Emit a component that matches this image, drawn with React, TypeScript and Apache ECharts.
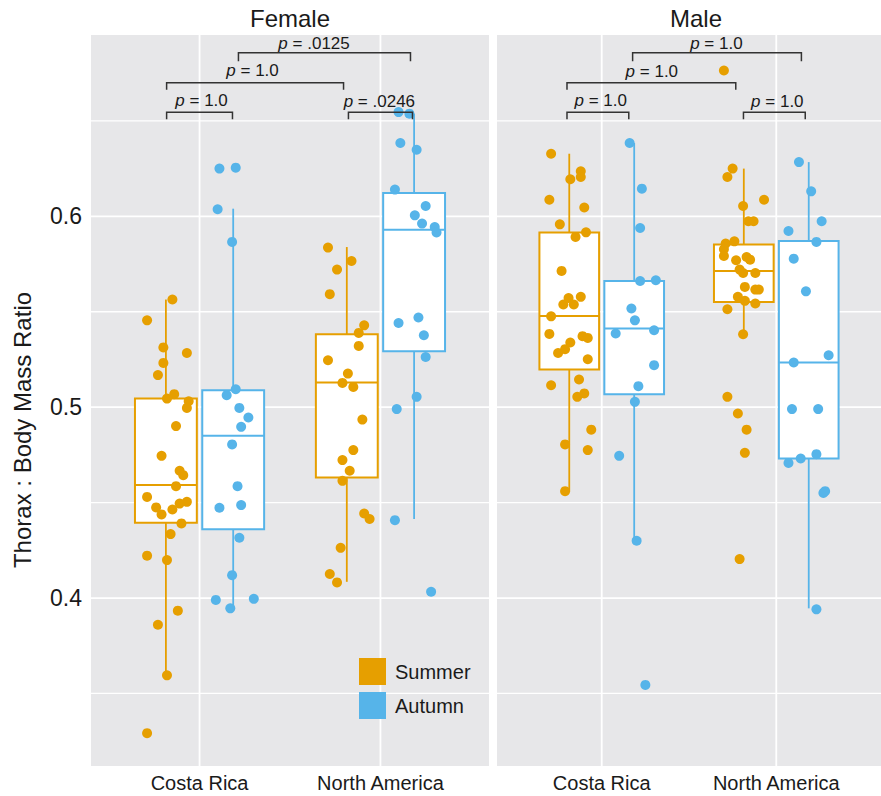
import React, { useEffect, useRef } from 'react';
import * as echarts from 'echarts';

const FONT = '"Liberation Sans", Arial, Helvetica, sans-serif';
const SUMMER = '#E69F00';
const AUTUMN = '#56B4E9';
const PANEL_BG = '#E7E7E9';
const TEXT = '#1a1a1a';

const categories = ['Costa Rica', 'North America'];
const seasons = ['Summer', 'Autumn'];
const panels = ['Female', 'Male'];
const yTickValues = [0.4, 0.5, 0.6];
const yGridValues = [0.35, 0.4, 0.45, 0.5, 0.55, 0.6, 0.65];
const xGridValues = [1, 2];
const X_MIN = 0.4;
const X_MAX = 2.6;
const Y_MIN = 0.312;
const Y_MAX = 0.695;

// jittered observations: [x position (category units), ratio]
const femaleSummer = [
  [0.85, 0.5564], [0.71, 0.5455], [0.80, 0.5313], [0.93, 0.5284], [0.80, 0.5232], [0.77, 0.5168],
  [0.86, 0.5068], [0.82, 0.5045], [0.94, 0.5031], [0.93, 0.4996], [0.87, 0.4901], [0.79, 0.4745],
  [0.89, 0.4667], [0.91, 0.4644], [0.87, 0.4586], [0.71, 0.4530], [0.76, 0.4475], [0.79, 0.4438],
  [0.85, 0.4464], [0.89, 0.4495], [0.93, 0.4504], [0.90, 0.4391], [0.84, 0.4335], [0.71, 0.4222],
  [0.82, 0.4199], [0.88, 0.3934], [0.77, 0.3860], [0.82, 0.3595], [0.71, 0.3292],
  [1.71, 0.5836], [1.84, 0.5766], [1.76, 0.5721], [1.72, 0.5592], [1.91, 0.5429], [1.88, 0.5389],
  [1.88, 0.5321], [1.71, 0.5246], [1.82, 0.5176], [1.79, 0.5127], [1.85, 0.5106], [1.90, 0.4935],
  [1.85, 0.4775], [1.79, 0.4723], [1.83, 0.4667], [1.79, 0.4614], [1.91, 0.4443], [1.94, 0.4414],
  [1.78, 0.4263], [1.72, 0.4126], [1.76, 0.4082],
];
const femaleAutumn = [
  [1.11, 0.6250], [1.20, 0.6255], [1.10, 0.6037], [1.18, 0.5866], [1.20, 0.5094], [1.15, 0.5063],
  [1.22, 0.4996], [1.27, 0.4946], [1.23, 0.4897], [1.18, 0.4805], [1.21, 0.4586], [1.11, 0.4473],
  [1.23, 0.4487], [1.22, 0.4316], [1.18, 0.4120], [1.09, 0.3990], [1.17, 0.3946], [1.30, 0.3996],
  [2.10, 0.6546], [2.16, 0.6538], [2.11, 0.6384], [2.20, 0.6349], [2.08, 0.6140], [2.25, 0.6054],
  [2.19, 0.6005], [2.23, 0.5962], [2.30, 0.5944], [2.31, 0.5915], [2.10, 0.5441], [2.21, 0.5470],
  [2.24, 0.5377], [2.25, 0.5263], [2.20, 0.5054], [2.09, 0.4990], [2.08, 0.4408], [2.28, 0.4033],
];
const maleSummer = [
  [0.71, 0.6328], [0.82, 0.6194], [0.88, 0.6236], [0.88, 0.6206], [0.70, 0.6087], [0.90, 0.6046],
  [0.76, 0.5958], [0.91, 0.5916], [0.85, 0.5892], [0.77, 0.5714], [0.81, 0.5572], [0.88, 0.5578],
  [0.78, 0.5538], [0.84, 0.5538], [0.71, 0.5476], [0.70, 0.5384], [0.89, 0.5372], [0.92, 0.5363],
  [0.82, 0.5339], [0.79, 0.5304], [0.75, 0.5284], [0.92, 0.5251], [0.71, 0.5115], [0.87, 0.5145],
  [0.86, 0.5054], [0.90, 0.5072], [0.94, 0.4882], [0.79, 0.4805], [0.92, 0.4775], [0.79, 0.4560],
  [1.70, 0.6764], [1.75, 0.6250], [1.72, 0.6206], [1.81, 0.6054], [1.93, 0.6087], [1.84, 0.5974],
  [1.87, 0.5974], [1.71, 0.5857], [1.76, 0.5869], [1.70, 0.5827], [1.70, 0.5792], [1.77, 0.5770],
  [1.83, 0.5787], [1.85, 0.5773], [1.79, 0.5721], [1.81, 0.5703], [1.88, 0.5703], [1.82, 0.5630],
  [1.88, 0.5616], [1.90, 0.5616], [1.78, 0.5578], [1.82, 0.5557], [1.88, 0.5543], [1.72, 0.5513],
  [1.81, 0.5382], [1.72, 0.5054], [1.78, 0.4967], [1.83, 0.4882], [1.82, 0.4761], [1.79, 0.4204],
];
const maleAutumn = [
  [1.16, 0.6384], [1.23, 0.6145], [1.22, 0.5939], [1.22, 0.5661], [1.31, 0.5665], [1.17, 0.5517],
  [1.19, 0.5455], [1.08, 0.5386], [1.30, 0.5403], [1.30, 0.5220], [1.21, 0.5110], [1.19, 0.5028],
  [1.10, 0.4745], [1.20, 0.4300], [1.25, 0.3545],
  [2.13, 0.6284], [2.20, 0.6131], [2.26, 0.5974], [2.07, 0.5923], [2.23, 0.5866], [2.10, 0.5778],
  [2.17, 0.5607], [2.30, 0.5272], [2.10, 0.5234], [2.09, 0.4990], [2.24, 0.4990], [2.07, 0.4708],
  [2.14, 0.4731], [2.23, 0.4754], [2.27, 0.4551], [2.28, 0.4560], [2.23, 0.3941],
];

// box statistics: [category, lower whisker, Q1, median, Q3, upper whisker]
const femaleSummerBoxes = [
  [1, 0.3595, 0.4394, 0.4592, 0.5045, 0.5564],
  [2, 0.4085, 0.4632, 0.5129, 0.5382, 0.5839],
];
const femaleAutumnBoxes = [
  [1, 0.3946, 0.4361, 0.4850, 0.5089, 0.6040],
  [2, 0.4414, 0.5293, 0.5930, 0.6122, 0.6538],
];
const maleSummerBoxes = [
  [1, 0.4557, 0.5197, 0.5478, 0.5915, 0.6328],
  [2, 0.5382, 0.5551, 0.5714, 0.5853, 0.6250],
];
const maleAutumnBoxes = [
  [1, 0.4300, 0.5068, 0.5412, 0.5661, 0.6384],
  [2, 0.3946, 0.4731, 0.5234, 0.5871, 0.6284],
];

// significance brackets: [x1, x2, y, tick end y, label x, label y]
const femaleBrackets = [
  [0.818, 1.182, 0.6545, 0.6508, 1.011, 0.6607],
  [0.818, 1.796, 0.6700, 0.6663, 1.293, 0.6764],
  [1.215, 2.166, 0.6857, 0.6812, 1.633, 0.6906],
  [1.823, 2.177, 0.6545, 0.6508, 1.994, 0.6599],
];
const femaleBracketLabels = ['1.0', '1.0', '.0125', '.0246'];
const maleBrackets = [
  [0.801, 1.155, 0.6545, 0.6508, 0.994, 0.6607],
  [0.801, 1.768, 0.6700, 0.6663, 1.287, 0.6757],
  [1.177, 2.144, 0.6857, 0.6812, 1.657, 0.6906],
  [1.812, 2.166, 0.6545, 0.6508, 2.006, 0.6602],
];
const maleBracketLabels = ['1.0', '1.0', '1.0', '1.0'];

const DODGE = 0.186;
const BOX_HALF = 0.171;

function boxRenderer(offset: number, color: string) {
  return (params: any, api: any) => {
    const x = api.value(0) + offset;
    const low = api.coord([x, api.value(1)]);
    const q1 = api.coord([x, api.value(2)]);
    const med = api.coord([x, api.value(3)]);
    const q3 = api.coord([x, api.value(4)]);
    const high = api.coord([x, api.value(5)]);
    const hw = api.size([BOX_HALF, 0])[0];
    const cx = q1[0];
    const lw = 2;
    return {
      type: 'group',
      children: [
        { type: 'line', shape: { x1: cx, y1: low[1], x2: cx, y2: q1[1] }, style: { stroke: color, lineWidth: 1.8 } },
        { type: 'line', shape: { x1: cx, y1: q3[1], x2: cx, y2: high[1] }, style: { stroke: color, lineWidth: 1.8 } },
        {
          type: 'rect',
          shape: { x: cx - hw, y: q3[1], width: 2 * hw, height: q1[1] - q3[1] },
          style: { fill: '#ffffff', stroke: color, lineWidth: lw },
        },
        { type: 'line', shape: { x1: cx - hw, y1: med[1], x2: cx + hw, y2: med[1] }, style: { stroke: color, lineWidth: lw } },
      ],
    };
  };
}

function bracketRenderer(labels: string[]) {
  return (params: any, api: any) => {
    const a = api.coord([api.value(0), api.value(2)]);
    const b = api.coord([api.value(1), api.value(2)]);
    const tickEnd = api.coord([api.value(0), api.value(3)]);
    const t = api.coord([api.value(4), api.value(5)]);
    return {
      type: 'group',
      children: [
        {
          type: 'polyline',
          shape: { points: [[a[0], tickEnd[1]], a, b, [b[0], tickEnd[1]]] },
          style: { stroke: '#333333', lineWidth: 1.5, fill: null },
        },
        {
          type: 'text',
          x: t[0],
          y: t[1],
          style: {
            text: '{i|p}{n| = ' + labels[params.dataIndex] + '}',
            rich: {
              i: { fontStyle: 'italic', fontSize: 17, fontFamily: FONT, fill: TEXT },
              n: { fontSize: 17, fontFamily: FONT, fill: TEXT },
            },
            fontSize: 17,
            fontFamily: FONT,
            fill: TEXT,
            align: 'center',
            verticalAlign: 'middle',
          },
        },
      ],
    };
  };
}

function panelSeries(idx: number, summer: number[][], autumn: number[][], sBoxes: number[][], aBoxes: number[][], brackets: number[][], labels: string[]) {
  const axes = { xAxisIndex: idx, yAxisIndex: idx };
  return [
    {
      type: 'custom', name: 'hgrid' + idx, ...axes, silent: true, z: 1,
      data: yGridValues.map((v) => [v]),
      encode: { y: 0 },
      renderItem: (params: any, api: any) => {
        const v = api.value(0);
        const p1 = api.coord([X_MIN, v]);
        const p2 = api.coord([X_MAX, v]);
        const major = yTickValues.some((t) => Math.abs(t - v) < 1e-9);
        return { type: 'line', shape: { x1: p1[0], y1: p1[1], x2: p2[0], y2: p2[1] }, style: { stroke: '#ffffff', lineWidth: major ? 1.8 : 1.3 } };
      },
    },
    {
      type: 'custom', name: 'vgrid' + idx, ...axes, silent: true, z: 1,
      data: xGridValues.map((v) => [v]),
      encode: { x: 0 },
      renderItem: (params: any, api: any) => {
        const v = api.value(0);
        const p1 = api.coord([v, Y_MIN]);
        const p2 = api.coord([v, Y_MAX]);
        return { type: 'line', shape: { x1: p1[0], y1: p1[1], x2: p2[0], y2: p2[1] }, style: { stroke: '#ffffff', lineWidth: 1.8 } };
      },
    },
    {
      type: 'custom', name: 'Summer boxes', ...axes, silent: true, z: 2,
      data: sBoxes, encode: { x: 0, y: [1, 2, 3, 4, 5] },
      renderItem: boxRenderer(-DODGE, SUMMER),
    },
    {
      type: 'custom', name: 'Autumn boxes', ...axes, silent: true, z: 2,
      data: aBoxes, encode: { x: 0, y: [1, 2, 3, 4, 5] },
      renderItem: boxRenderer(DODGE, AUTUMN),
    },
    {
      type: 'scatter', name: seasons[0], ...axes, z: 3, data: summer,
      symbolSize: 10, itemStyle: { color: SUMMER, opacity: 1 },
    },
    {
      type: 'scatter', name: seasons[1], ...axes, z: 3, data: autumn,
      symbolSize: 10, itemStyle: { color: AUTUMN, opacity: 1 },
    },
    {
      type: 'custom', name: 'brackets' + idx, ...axes, silent: true, z: 4,
      data: brackets, encode: { x: [0, 1, 4], y: [2, 3, 5] },
      renderItem: bracketRenderer(labels),
    },
  ];
}

export default function App() {
  const ref = useRef<HTMLDivElement>(null);
  useEffect(() => {
    if (!ref.current) return;
    const chart = echarts.init(ref.current, null, { renderer: 'svg' });
    const gridBase = { top: 35, height: 731, width: 398, show: true, backgroundColor: PANEL_BG, borderWidth: 0, containLabel: false };
    const xAxisBase = (gi: number) => ({
      gridIndex: gi, type: 'value', min: X_MIN, max: X_MAX,
      splitLine: { show: false }, axisLine: { show: false }, axisTick: { show: false },
      axisLabel: {
        customValues: [1, 2],
        formatter: (v: number) => categories[Math.round(v) - 1] || '',
        fontSize: 20, color: TEXT, fontFamily: FONT, margin: 7,
      },
    });
    const option: any = {
      animation: false,
      backgroundColor: '#ffffff',
      grid: [
        { ...gridBase, left: 91 },
        { ...gridBase, left: 497 },
      ],
      xAxis: [xAxisBase(0), xAxisBase(1)],
      yAxis: [
        {
          gridIndex: 0, type: 'value', min: Y_MIN, max: Y_MAX,
          splitLine: { show: false }, axisLine: { show: false }, axisTick: { show: false },
          axisLabel: {
            customValues: yTickValues,
            formatter: (v: number) => v.toFixed(1),
            fontSize: 23, color: TEXT, fontFamily: FONT, margin: 9,
          },
        },
        {
          gridIndex: 1, type: 'value', min: Y_MIN, max: Y_MAX,
          splitLine: { show: false }, axisLine: { show: false }, axisTick: { show: false },
          axisLabel: { show: false },
        },
      ],
      legend: {
        data: seasons,
        orient: 'vertical',
        left: 359,
        top: 658,
        itemWidth: 27,
        itemHeight: 27,
        itemGap: 7,
        icon: 'rect',
        padding: 0,
        selectedMode: false,
        textStyle: { fontSize: 20, color: TEXT, fontFamily: FONT, padding: [0, 0, 0, 4] },
      },
      graphic: [
        { type: 'text', x: 290, y: 18, style: { text: panels[0], fontSize: 24, fontFamily: FONT, fill: TEXT, align: 'center', verticalAlign: 'middle' } },
        { type: 'text', x: 696, y: 18, style: { text: panels[1], fontSize: 24, fontFamily: FONT, fill: TEXT, align: 'center', verticalAlign: 'middle' } },
        {
          type: 'text', x: 22, y: 430, rotation: Math.PI / 2,
          style: { text: 'Thorax : Body Mass Ratio', fontSize: 24, fontFamily: FONT, fill: TEXT, align: 'center', verticalAlign: 'middle' },
        },
      ],
      series: [
        ...panelSeries(0, femaleSummer, femaleAutumn, femaleSummerBoxes, femaleAutumnBoxes, femaleBrackets, femaleBracketLabels),
        ...panelSeries(1, maleSummer, maleAutumn, maleSummerBoxes, maleAutumnBoxes, maleBrackets, maleBracketLabels),
      ],
    };
    chart.setOption(option);
    return () => chart.dispose();
  }, []);
  return <div ref={ref} style={{ position: 'absolute', left: 0, top: 0, width: 881, height: 796 }} />;
}
